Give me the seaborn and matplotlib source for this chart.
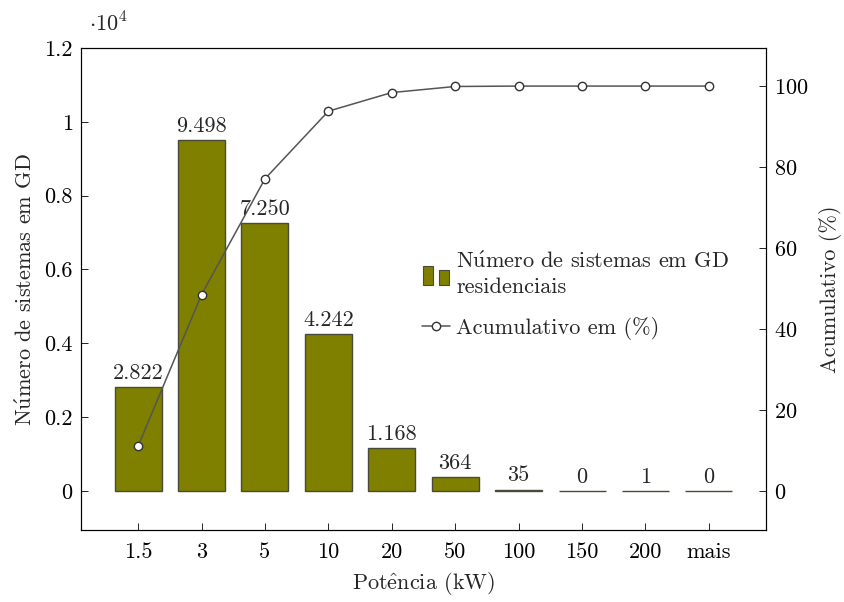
import matplotlib
matplotlib.use("Agg")
import matplotlib.pyplot as plt
import seaborn as sns
import pandas as pd
from matplotlib.ticker import FuncFormatter, MultipleLocator
from matplotlib.patches import Rectangle
from matplotlib.lines import Line2D
from matplotlib.legend_handler import HandlerBase

potencia = ["1.5", "3", "5", "10", "20", "50", "100", "150", "200", "mais"]
sistemas = [2822, 9498, 7250, 4242, 1168, 364, 35, 0, 1, 0]
rotulos = ["2.822", "9.498", "7.250", "4.242", "1.168", "364", "35", "0", "1", "0"]
acumulado = [11.1, 48.5, 77.1, 93.8, 98.4, 99.9, 100.0, 100.0, 100.0, 100.0]

sns.set_style("ticks")
plt.rcParams["font.family"] = ["cmr10", "DejaVu Serif"]
plt.rcParams["mathtext.fontset"] = "cm"
plt.rcParams["axes.formatter.use_mathtext"] = True
fs = 16
plt.rcParams["font.size"] = fs

df = pd.DataFrame({"potencia": potencia, "sistemas": sistemas, "acum": acumulado})

fig = plt.figure(figsize=(8.45, 6.02), dpi=100)
ax = fig.add_axes([81 / 845, 1 - 530 / 602, 685 / 845, 482 / 602])

oliva = "#7f7f00"
borda = "#4a4a3a"
sns.barplot(data=df, x="potencia", y="sistemas", color=oliva, saturation=1,
            width=0.74, edgecolor=borda, linewidth=1.0, ax=ax)
for i, (v, t) in enumerate(zip(sistemas, rotulos)):
    ax.annotate(t, (i, v), xytext=(0, 3), textcoords="offset points",
                ha="center", va="bottom", fontsize=fs)

ax.set_ylim(-1060, 12000)
ax.yaxis.set_major_locator(MultipleLocator(2000))
ax.yaxis.set_major_formatter(FuncFormatter(lambda v, p: "{:g}".format(round(v / 1e4, 2))))
ax.set_ylabel(r"N$\acute{\rm u}$mero de sistemas em GD", fontsize=fs, labelpad=6)
ax.set_xlabel(r"Pot$\hat{\rm e}$ncia (kW)", fontsize=fs, labelpad=6)
ax.text(0.012, 1.025, r"$\cdot 10^4$", transform=ax.transAxes, ha="left", va="bottom", fontsize=fs)

ax2 = ax.twinx()
sns.pointplot(data=df, x="potencia", y="acum", color="#555555", markers="o",
              linestyles="-", markersize=6, markerfacecolor="white",
              markeredgecolor="#333333", markeredgewidth=1.0, linewidth=1.1, ax=ax2)
ax2.set_ylim(-9.6, 109.4)
ax2.set_yticks([0, 20, 40, 60, 80, 100])
ax2.set_ylabel("Acumulativo (%)", fontsize=fs, labelpad=7)
ax.set_xlim(-0.9, 9.9)
ax2.set_xlim(-0.9, 9.9)

for a in (ax, ax2):
    for s in a.spines.values():
        s.set_visible(True)
        s.set_color("black")
        s.set_linewidth(0.8)
    a.tick_params(direction="in", length=5, width=0.6, colors="black", labelsize=fs)
ax.tick_params(axis="x", pad=9)
ax.tick_params(axis="y", pad=6)
ax2.tick_params(axis="y", pad=6)


class DuasBarras(HandlerBase):
    def create_artists(self, legend, orig, xd, yd, w, h, fs, trans):
        b1 = Rectangle((xd + 0.05 * w, yd - 0.2 * h), 0.35 * w, h * 1.2, facecolor=oliva,
                       edgecolor=borda, lw=0.8, transform=trans)
        b2 = Rectangle((xd + 0.6 * w, yd - 0.2 * h), 0.35 * w, h * 0.95, facecolor=oliva,
                       edgecolor=borda, lw=0.8, transform=trans)
        return [b1, b2]


h1 = Rectangle((0, 0), 1, 1, facecolor=oliva)
h2 = Line2D([], [], color="#555555", marker="o", markerfacecolor="white",
            markeredgecolor="#333333", markersize=6, lw=1.1)
leg = ax2.legend([h1, h2], [r"N$\acute{\rm u}$mero de sistemas em GD" + "\nresidenciais",
                            "Acumulativo em (%)"],
                 handler_map={h1: DuasBarras()}, loc="upper left",
                 bbox_to_anchor=(0.468, 0.62), frameon=False, fontsize=fs,
                 handlelength=1.3, handletextpad=0.25, labelspacing=0.9)
for t in leg.get_texts():
    t.set_linespacing(1.35)

fig.savefig("out.png", dpi=100)
